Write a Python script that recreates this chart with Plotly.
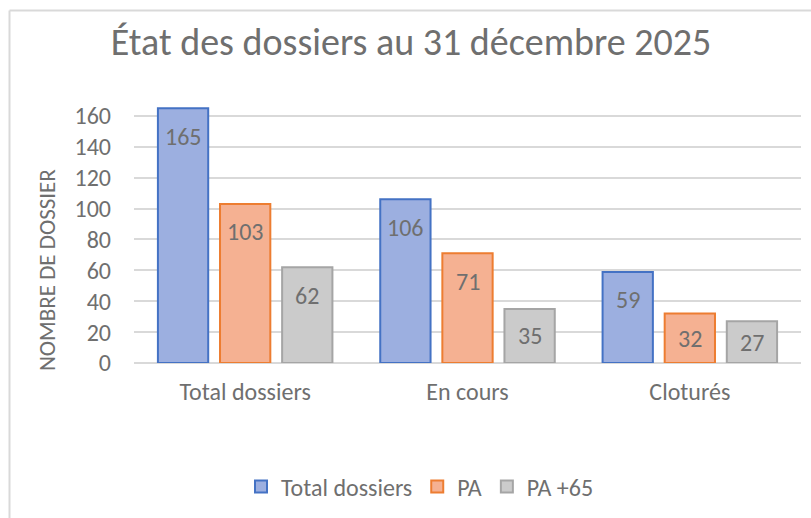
import plotly.graph_objects as go

categories = ["Total dossiers", "En cours", "Cloturés"]
series_names = ["Total dossiers", "PA", "PA +65"]
total_dossiers = [165, 106, 59]
pa = [103, 71, 32]
pa_65 = [62, 35, 27]
y_tick_values = [0, 20, 40, 60, 80, 100, 120, 140, 160]
title_text = "État des dossiers au 31 décembre 2025"
y_title_text = "NOMBRE DE DOSSIER"

W, H = 811, 518
ml, mr, mt, mb = 134, 10, 85, 155
pw, ph = W - ml - mr, H - mt - mb
y_max = 180

fills = ["#9cafe0", "#f5b192", "#cbcbcb"]
lines = ["#4472c4", "#ed7d31", "#a5a5a5"]
text_color = "#6f6f6f"
font_family = "Carlito, Calibri, Lato, sans-serif"
fs = 24

series = [total_dossiers, pa, pa_65]

fig = go.Figure()
for name, vals, fc, lc in zip(series_names, series, fills, lines):
    fig.add_trace(go.Bar(
        x=categories, y=vals, name=name,
        marker=dict(color=fc, line=dict(color=lc, width=2)),
        hoverinfo="skip",
    ))

# data labels (inside end, centered when bar is short)
px_per_unit = ph / y_max
slot_px = pw / len(categories) * (1 - 0.162) / len(series)
label_offset_units = 28 / px_per_unit
annotations = []
for i, vals in enumerate(series):
    for cat, v in zip(categories, vals):
        ypos = max(v - label_offset_units, v / 2)
        annotations.append(dict(
            x=cat, y=ypos, xref="x", yref="y",
            xshift=(i - 1) * slot_px, yanchor="middle",
            text=str(v), showarrow=False,
            font=dict(size=fs, color=text_color, family=font_family),
        ))

annotations.append(dict(
    text=y_title_text, textangle=-90, showarrow=False,
    xref="paper", yref="paper",
    x=(47 - ml) / pw, y=(H - mb - 270) / ph,
    xanchor="center", yanchor="middle",
    font=dict(size=23, color=text_color, family=font_family),
))

def px_x(p):
    return (p - ml) / pw

def px_y(p):
    return (H - mb - p) / ph

shapes = [
    dict(type="line", xref="paper", yref="paper",
         x0=px_x(9.5), x1=px_x(9.5), y0=px_y(10.5), y1=px_y(H + 2),
         line=dict(color="#d9d9d9", width=2)),
    dict(type="line", xref="paper", yref="paper",
         x0=px_x(9.5), x1=px_x(W + 2), y0=px_y(10.5), y1=px_y(10.5),
         line=dict(color="#d9d9d9", width=2)),
]

fig.update_layout(
    width=W, height=H,
    margin=dict(l=ml, r=mr, t=mt, b=mb),
    paper_bgcolor="white", plot_bgcolor="white",
    barmode="group", bargap=0.162, bargroupgap=0.19,
    font=dict(family=font_family, color=text_color),
    title=dict(text=title_text, x=411 / W, xanchor="center", xref="container",
               y=1 - 42 / H, yanchor="middle", yref="container",
               font=dict(size=38, color=text_color, family=font_family)),
    xaxis=dict(range=[-0.5, 2.5], showgrid=False, showline=False, zeroline=False,
               ticks="", tickfont=dict(size=fs, color=text_color), ticklabelstandoff=12),
    yaxis=dict(range=[0, y_max], tickvals=y_tick_values, showgrid=True,
               gridcolor="#d9d9d9", gridwidth=1.5, zeroline=True, zerolinecolor="#d9d9d9",
               zerolinewidth=1.5, showline=False, ticks="",
               tickfont=dict(size=fs, color=text_color), ticklabelstandoff=22),
    legend=dict(orientation="h", x=420 / W, xref="container", xanchor="center",
                y=1 - 487 / H, yref="container", yanchor="middle",
                font=dict(size=fs, color=text_color), traceorder="normal",
                itemwidth=30),
    annotations=annotations,
    shapes=shapes,
    showlegend=True,
)

fig.write_html("out.html", config={"displayModeBar": False},
               post_script="document.body.style.margin='0px';")
